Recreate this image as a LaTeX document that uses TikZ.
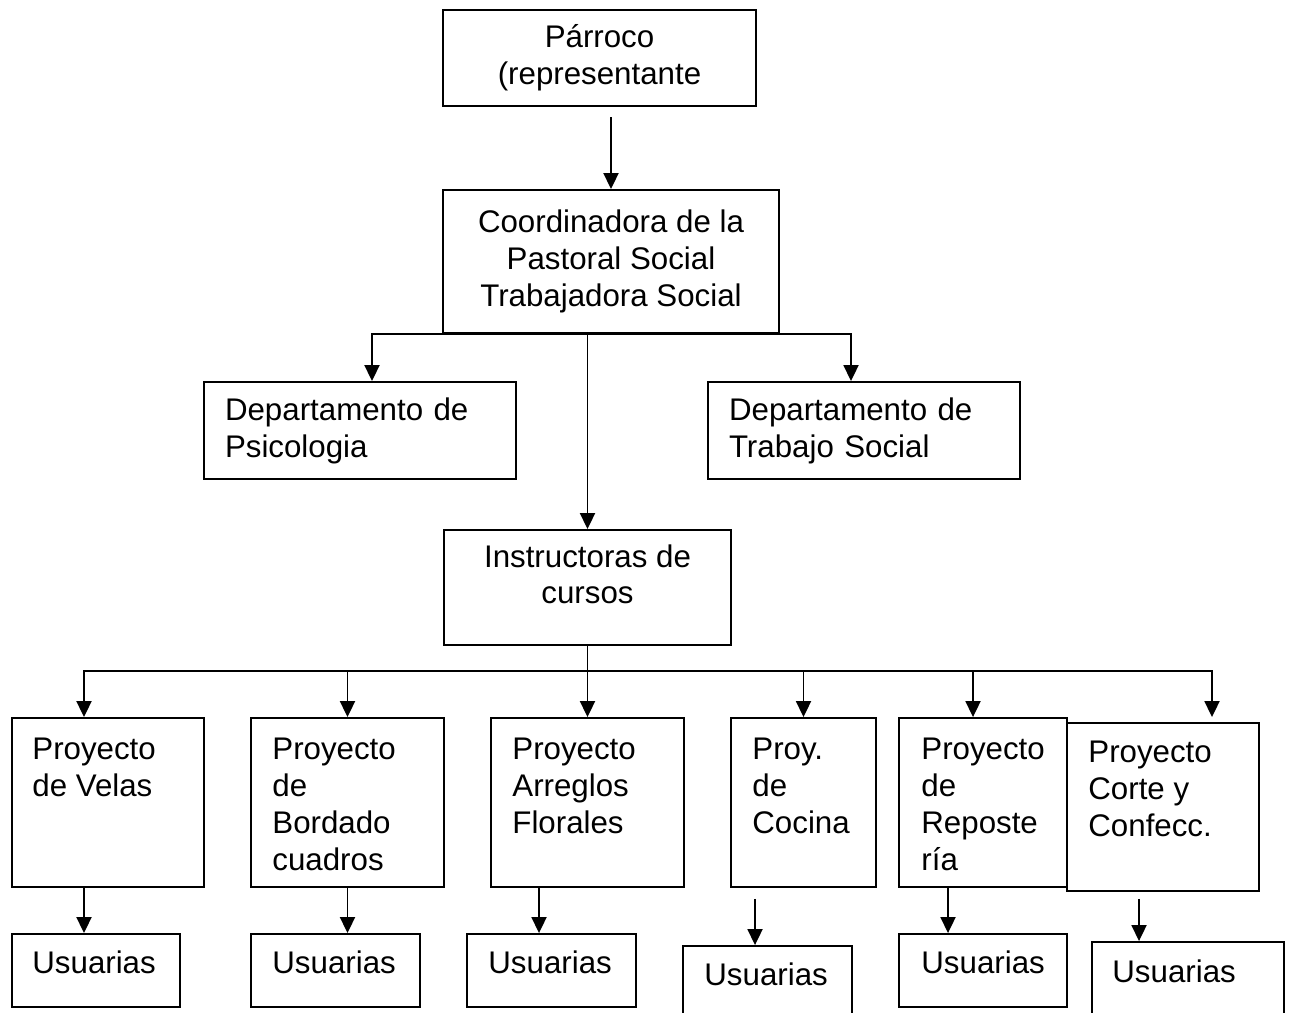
\documentclass[tikz,border=0pt]{standalone}
\usepackage{fontspec}
\setmainfont{Liberation Sans}
\usetikzlibrary{arrows.meta}
\usetikzlibrary{positioning}
\tikzstyle{org_box} = [rectangle, draw=black, line width=1.1pt, align=center, font=\fontsize{17.8}{21}\selectfont]
\tikzstyle{org_text} = [inner sep=0pt, align=left, font=\fontsize{17.8}{21}\selectfont]
\tikzstyle{org_line} = [line width=1.1pt]
\tikzstyle{org_arrow} = [line width=1.1pt, ->, >={Triangle[length=0.32cm, width=0.3cm]}]

\begin{document}
\begin{tikzpicture}[x=0.02cm, y=-0.02cm]

    \useasboundingbox (0,0) rectangle (1290,1012);
    \clip (0,0) rectangle (1290,1012);

    % top levels
    \node (parroco) [org_box, minimum width=6.26cm, minimum height=1.92cm] at (599.5,58) {P\'arroco\\(representante};
    \node (coord) [org_box, minimum width=6.72cm, minimum height=2.86cm] at (611,261.5) {Coordinadora de la\\Pastoral Social\\Trabajadora Social};
    \node (psico) [org_box, minimum width=6.24cm, minimum height=1.94cm, text width=5.4cm, inner xsep=0.42cm, align=left] at (360,430.5) {Departamento de\\Psicologia};
    \node (trabsoc) [org_box, minimum width=6.24cm, minimum height=1.94cm, text width=5.4cm, inner xsep=0.42cm, align=left] at (864,430.5) {Departamento de\\Trabajo Social};
    \node (instr) [org_box, minimum width=5.74cm, minimum height=2.30cm] at (587.5,587.5) {};
    \node (instrtext) [org_text, align=center, below=0.3cm of instr.north] {Instructoras de\\cursos};

    % projects
    \node (velas) [org_box, minimum width=3.84cm, minimum height=3.38cm] at (108,802.5) {};
    \node (bordado) [org_box, minimum width=3.86cm, minimum height=3.38cm] at (347.5,802.5) {};
    \node (arreglos) [org_box, minimum width=3.86cm, minimum height=3.38cm] at (587.5,802.5) {};
    \node (cocina) [org_box, minimum width=2.90cm, minimum height=3.38cm] at (803.5,802.5) {};
    \node (reposteria) [org_box, minimum width=3.36cm, minimum height=3.38cm] at (983,802.5) {};
    \node (corte) [org_box, minimum width=3.84cm, minimum height=3.36cm] at (1163,807) {};

    \node (velastext) [org_text, below right=0.41cm and 0.42cm of velas.north west] {Proyecto\\de Velas};
    \node (bordadotext) [org_text, below right=0.41cm and 0.44cm of bordado.north west] {Proyecto\\de\\Bordado\\cuadros};
    \node (arreglostext) [org_text, below right=0.41cm and 0.44cm of arreglos.north west] {Proyecto\\Arreglos\\Florales};
    \node (cocinatext) [org_text, below right=0.41cm and 0.44cm of cocina.north west] {Proy.\\de\\Cocina};
    \node (repostext) [org_text, below right=0.41cm and 0.46cm of reposteria.north west] {Proyecto\\de\\Reposte\\r\'ia};
    \node (cortetext) [org_text, below right=0.37cm and 0.44cm of corte.north west] {Proyecto\\Corte y\\Confecc.};

    % users
    \node (usu1) [org_box, minimum width=3.36cm, minimum height=1.46cm] at (96,970.5) {};
    \node (usu2) [org_box, minimum width=3.38cm, minimum height=1.46cm] at (335.5,970.5) {};
    \node (usu3) [org_box, minimum width=3.38cm, minimum height=1.46cm] at (551.5,970.5) {};
    \node (usu4) [org_box, minimum width=3.38cm, minimum height=1.46cm] at (767.5,982.5) {};
    \node (usu5) [org_box, minimum width=3.36cm, minimum height=1.46cm] at (983,970.5) {};
    \node (usu6) [org_box, minimum width=3.84cm, minimum height=1.46cm] at (1188,978.5) {};

    \node (usu1text) [org_text, below right=0.35cm and 0.42cm of usu1.north west] {Usuarias};
    \node (usu2text) [org_text, below right=0.35cm and 0.44cm of usu2.north west] {Usuarias};
    \node (usu3text) [org_text, below right=0.35cm and 0.44cm of usu3.north west] {Usuarias};
    \node (usu4text) [org_text, below right=0.35cm and 0.44cm of usu4.north west] {Usuarias};
    \node (usu5text) [org_text, below right=0.35cm and 0.46cm of usu5.north west] {Usuarias};
    \node (usu6text) [org_text, below right=0.37cm and 0.42cm of usu6.north west] {Usuarias};

    % connectors
    \draw [org_arrow] ([yshift=1.44cm]coord.north) -- (coord.north);
    \draw [org_arrow] (coord.south) -| ([xshift=0.24cm]psico.north);
    \draw [org_arrow] (coord.south) -| ([xshift=-0.26cm]trabsoc.north);
    \draw [org_arrow] (coord.south -| instr.north) -- (instr.north);

    \coordinate (bus) at ([yshift=-0.5cm]instr.south);
    \draw [org_line] (instr.south) -- (bus);
    \draw [org_arrow] (bus) -| ([xshift=-0.48cm]velas.north);
    \draw [org_arrow] (bus) -| (bordado.north);
    \draw [org_arrow] (bus) -- (arreglos.north);
    \draw [org_arrow] (bus) -| (cocina.north);
    \draw [org_arrow] (bus) -| ([xshift=-0.2cm]reposteria.north);
    \draw [org_arrow] (bus) -| ([xshift=0.98cm, yshift=0.1cm]corte.north);

    \draw [org_arrow] ([xshift=-0.48cm]velas.south) -- ([xshift=-0.48cm]velas.south |- usu1.north);
    \draw [org_arrow] (bordado.south) -- (bordado.south |- usu2.north);
    \draw [org_arrow] ([xshift=-0.97cm]arreglos.south) -- ([xshift=-0.97cm]arreglos.south |- usu3.north);
    \draw [org_arrow] ([xshift=-0.97cm, yshift=-0.22cm]cocina.south) -- ([xshift=-0.97cm]cocina.south |- usu4.north);
    \draw [org_arrow] ([xshift=-0.7cm]reposteria.south) -- ([xshift=-0.7cm]reposteria.south |- usu5.north);
    \draw [org_arrow] ([xshift=-0.48cm, yshift=-0.14cm]corte.south) -- ([xshift=-0.48cm]corte.south |- usu6.north);

\end{tikzpicture}
\end{document}
